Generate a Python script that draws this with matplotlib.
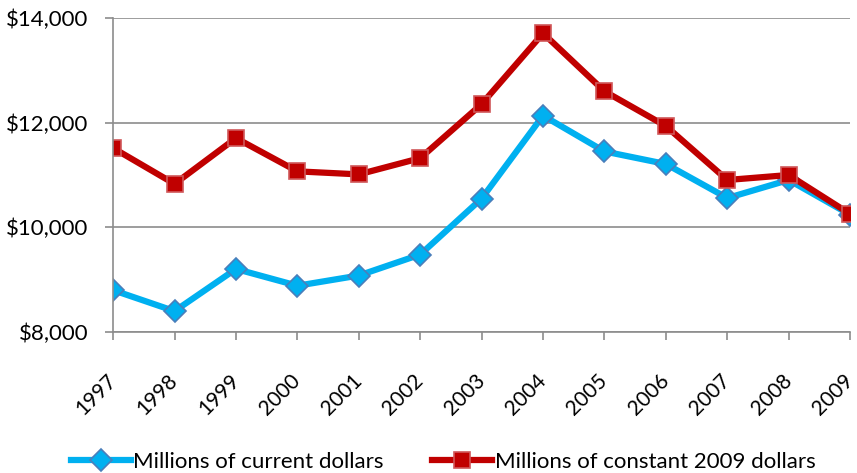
import matplotlib.pyplot as plt
import matplotlib.transforms as mtransforms
from matplotlib.ticker import FuncFormatter

years = ['1997', '1998', '1999', '2000', '2001', '2002', '2003',
         '2004', '2005', '2006', '2007', '2008', '2009']
current_dollars = [8800, 8400, 9205, 8885, 9080, 9480, 10550,
                   12135, 11450, 11210, 10560, 10905, 10240]
constant_dollars = [11515, 10830, 11705, 11070, 11012, 11322, 12355,
                    13708, 12600, 11935, 10905, 11000, 10255]

plt.rcParams['font.family'] = ['Lato', 'DejaVu Sans']

fig = plt.figure(figsize=(8.57, 4.73), dpi=100)
ax = fig.add_axes([0.132, 0.298, 0.860, 0.664])

x = list(range(len(years)))
ax.plot(x, current_dollars, color='#00b0f0', linewidth=4.5, marker='D',
        markersize=11, markerfacecolor='#00b0f0', markeredgecolor='#4a7ebb',
        markeredgewidth=1.2, label='Millions of current dollars', zorder=3)
ax.plot(x, constant_dollars, color='#c00000', linewidth=4.5, marker='s',
        markersize=12, markerfacecolor='#c00000', markeredgecolor='#d0585a',
        markeredgewidth=1.2, label='Millions of constant 2009 dollars', zorder=4)

ax.set_xlim(0, len(years) - 1)
ax.set_ylim(8000, 14000)
ax.set_yticks([8000, 10000, 12000, 14000])
ax.yaxis.set_major_formatter(FuncFormatter(lambda v, p: '${:,.0f}'.format(v)))
ax.yaxis.grid(True, color='#8c8c8c', linewidth=1.2)
ax.set_axisbelow(True)

ax.set_xticks(x)
ax.set_xticklabels(years, rotation=45, ha='right', va='center',
                   rotation_mode='anchor', fontsize=15)
# nudge the slanted year labels a little to the right
shift = mtransforms.ScaledTranslation(4 / 100, 0, fig.dpi_scale_trans)
for lab in ax.get_xticklabels():
    lab.set_transform(lab.get_transform() + shift)

for side in ['top', 'right']:
    ax.spines[side].set_visible(False)
for side in ['left', 'bottom']:
    ax.spines[side].set_color('#8c8c8c')
    ax.spines[side].set_linewidth(1.2)
ax.spines['left'].set_zorder(5)

ax.tick_params(axis='both', colors='#8c8c8c', length=6, width=1.2,
               labelcolor='black')
ax.tick_params(axis='y', pad=12, labelsize=16)
ax.tick_params(axis='x', pad=27)

fig.legend(loc='center', bbox_to_anchor=(0.517, 0.024), ncol=2,
           frameon=False, fontsize=16, handlelength=2.7, handletextpad=0.1,
           columnspacing=2.2)

fig.savefig('out.png', dpi=100)
